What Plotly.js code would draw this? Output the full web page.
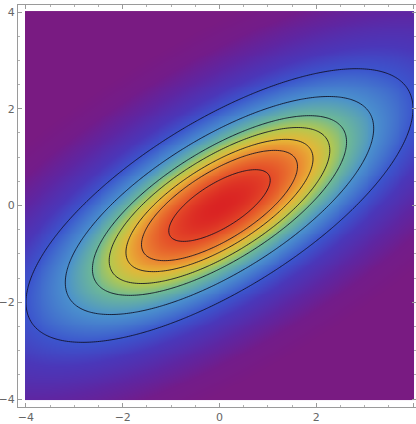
<!DOCTYPE html>
<html>
<head>
<meta charset="utf-8">
<script src="https://cdn.plot.ly/plotly-3.0.1.min.js"></script>
<style>html,body{margin:0;padding:0;background:#fff;}#chart{width:416px;height:424px;}</style>
</head>
<body>
<div id="chart"></div>
<script>
// Bivariate normal: covariance read from the ellipse shape
const covXX = 2.0;
const covXY = 1.0;
const covYY = 1.0;
// Contour levels (squared Mahalanobis distance)
const contourLevels = [0.55, 1.3, 1.87, 2.6, 3.45, 5.08, 8.0];
// Colour stops (by squared Mahalanobis distance)
const colorQ = [0, 0.55, 1.3, 1.87, 2.6, 3.45, 5.08, 8.0, 11, 16, 22, 30];
const colorRGB = [
  'rgb(218,35,35)', 'rgb(228,75,40)', 'rgb(235,135,50)', 'rgb(230,182,55)',
  'rgb(180,200,80)', 'rgb(110,185,150)', 'rgb(75,145,205)', 'rgb(60,85,205)',
  'rgb(75,55,185)', 'rgb(95,38,162)', 'rgb(115,28,138)', 'rgb(121,27,130)'
];
const tickVals = [-4, -2, 0, 2, 4];
const xMin = -4, xMax = 4, nGrid = 201;

const det = covXX * covYY - covXY * covXY;
const iXX = covYY / det, iXY = -covXY / det, iYY = covXX / det;
const xs = [], ys = [];
for (let i = 0; i < nGrid; i++) {
  const v = xMin + (xMax - xMin) * i / (nGrid - 1);
  xs.push(v); ys.push(v);
}
const Q = ys.map(y => xs.map(x => iXX * x * x + 2 * iXY * x * y + iYY * y * y));
const Qc = Q.map(r => r.map(v => Math.min(v, 30)));
const qMax = colorQ[colorQ.length - 1];
const cs = colorQ.map((q, i) => [q / qMax, colorRGB[i]]);

const traces = [{
  type: 'heatmap', x: xs, y: ys, z: Qc, zmin: 0, zmax: qMax,
  colorscale: cs, zsmooth: 'best', showscale: false, hoverinfo: 'skip'
}];
contourLevels.forEach(L => {
  traces.push({
    type: 'contour', x: xs, y: ys, z: Q, showscale: false, hoverinfo: 'skip',
    autocontour: false,
    contours: {start: L, end: L, size: 1, coloring: 'none', showlabels: false},
    line: {color: 'rgba(15,15,35,0.85)', width: 1, smoothing: 1}
  });
});

const axisCommon = {
  showgrid: false, zeroline: false, showline: true, linecolor: '#9a9a9a', linewidth: 1,
  mirror: 'ticks', ticks: 'inside', ticklen: 4, tickcolor: '#9a9a9a', tickwidth: 1,
  tickmode: 'array', tickvals: tickVals,
  minor: {ticks: 'inside', ticklen: 2, dtick: 0.5, tick0: 0, tickcolor: '#b0b0b0', showgrid: false},
  tickfont: {family: 'DejaVu Sans, sans-serif', size: 11, color: '#666'}
};
const layout = {
  width: 416, height: 424,
  margin: {l: 18, r: 0, t: 5, b: 17, pad: 0},
  paper_bgcolor: '#fff', plot_bgcolor: '#fff',
  xaxis: Object.assign({}, axisCommon, {range: [-4.165, 4.062]}),
  yaxis: Object.assign({}, axisCommon, {range: [-4.165, 4.145]}),
  showlegend: false
};
Plotly.newPlot('chart', traces, layout, {staticPlot: true, displayModeBar: false});
</script>
</body>
</html>
